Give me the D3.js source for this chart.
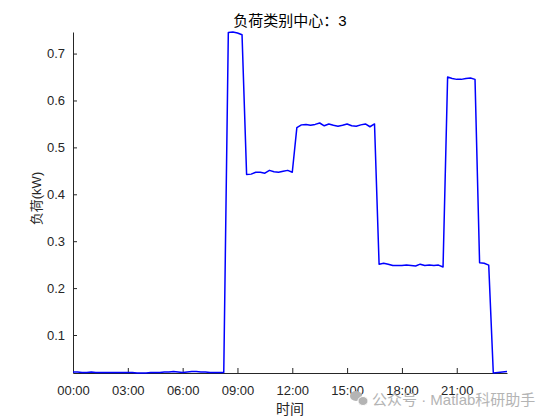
<!DOCTYPE html>
<meta charset="utf-8">
<style>

body {
  margin: 0;
  background: #fff;
}

text {
  font-family: "Liberation Sans", Arial, "Noto Sans CJK SC", sans-serif;
}

.axis path,
.axis line {
  stroke: #262626;
}

.axis text {
  fill: #262626;
  font-size: 13px;
}

</style>
<svg id="chart" width="560" height="420">
</svg>
<script src="https://d3js.org/d3.v7.min.js"></script>
<script>

// 96 points, one every 15 minutes (kW).
var load = [
  0.021, 0.021, 0.020, 0.020, 0.021, 0.020, 0.020, 0.020, 0.020, 0.020,
  0.020, 0.020, 0.020, 0.020, 0.019, 0.019, 0.019, 0.020, 0.020, 0.020,
  0.021, 0.021, 0.022, 0.021, 0.020, 0.021, 0.022, 0.022, 0.021, 0.021,
  0.020, 0.020, 0.020, 0.020,
  0.745, 0.746, 0.744, 0.740,
  0.442, 0.443, 0.447, 0.447, 0.445, 0.451, 0.448, 0.447, 0.449, 0.451, 0.447,
  0.542, 0.548, 0.549, 0.547, 0.549, 0.552, 0.546, 0.550, 0.547, 0.545,
  0.547, 0.550, 0.546, 0.545, 0.548, 0.550, 0.544, 0.550,
  0.251, 0.253, 0.251, 0.248, 0.248, 0.248, 0.249, 0.248, 0.247, 0.251,
  0.248, 0.249, 0.248, 0.249, 0.245,
  0.650, 0.647, 0.645, 0.645, 0.647, 0.648, 0.645,
  0.254, 0.253, 0.249,
  0.019, 0.020, 0.021, 0.022
];

var xTicks = [0, 12, 24, 36, 48, 60, 72, 84],
    xTickLabels = ["00:00", "03:00", "06:00", "09:00", "12:00", "15:00", "18:00", "21:00"],
    yTicks = [0.1, 0.2, 0.3, 0.4, 0.5, 0.6, 0.7];

var svg = d3.select("svg"),
    margin = {top: 32, right: 53, bottom: 47, left: 73},
    width = +svg.attr("width") - margin.left - margin.right,
    height = +svg.attr("height") - margin.top - margin.bottom,
    g = svg.append("g").attr("transform", "translate(" + margin.left + "," + margin.top + ")");

var x = d3.scaleLinear()
    .domain([0, load.length - 1])
    .range([0, width]);

var y = d3.scaleLinear()
    .domain(d3.extent(load))
    .range([height, 0]);

// ticks point inward, like matlab
g.append("g")
    .attr("class", "axis axis--x")
    .attr("transform", "translate(0," + height + ")")
    .call(d3.axisBottom(x)
        .tickValues(xTicks)
        .tickFormat(function(d, i) { return xTickLabels[i]; })
        .tickSizeInner(-5)
        .tickSizeOuter(0)
        .tickPadding(13));

g.append("g")
    .attr("class", "axis axis--y")
    .call(d3.axisLeft(y)
        .tickValues(yTicks)
        .tickFormat(d3.format(".1f"))
        .tickSizeInner(-4)
        .tickSizeOuter(0)
        .tickPadding(8));

var line = d3.line()
    .x(function(d, i) { return x(i); })
    .y(function(d) { return y(d); });

g.append("path")
    .datum(load)
    .attr("fill", "none")
    .attr("stroke", "#0000ff")
    .attr("stroke-width", 1.5)
    .attr("stroke-linejoin", "round")
    .attr("d", line);

svg.append("text")
    .attr("x", margin.left + width / 2)
    .attr("y", 26)
    .attr("text-anchor", "middle")
    .attr("font-size", "15px")
    .attr("fill", "#000")
    .text("负荷类别中心：3");

svg.append("text")
    .attr("x", margin.left + width / 2)
    .attr("y", 414)
    .attr("text-anchor", "middle")
    .attr("font-size", "14px")
    .attr("fill", "#262626")
    .text("时间");

svg.append("text")
    .attr("transform", "translate(41," + (margin.top + height / 2 - 4) + ") rotate(-90)")
    .attr("text-anchor", "middle")
    .attr("font-size", "13px")
    .attr("fill", "#262626")
    .text("负荷(kW)");

// watermark
var wm = svg.append("g").attr("fill", "#b4b4b4");
wm.append("ellipse").attr("cx", 356).attr("cy", 396).attr("rx", 6).attr("ry", 5);
wm.append("ellipse").attr("cx", 363).attr("cy", 401).attr("rx", 5).attr("ry", 4.5)
    .attr("stroke", "#fff").attr("stroke-width", 1);
wm.append("text")
    .attr("x", 372)
    .attr("y", 405)
    .attr("font-size", "15px")
    .text("公众号 · Matlab科研助手");

</script>
